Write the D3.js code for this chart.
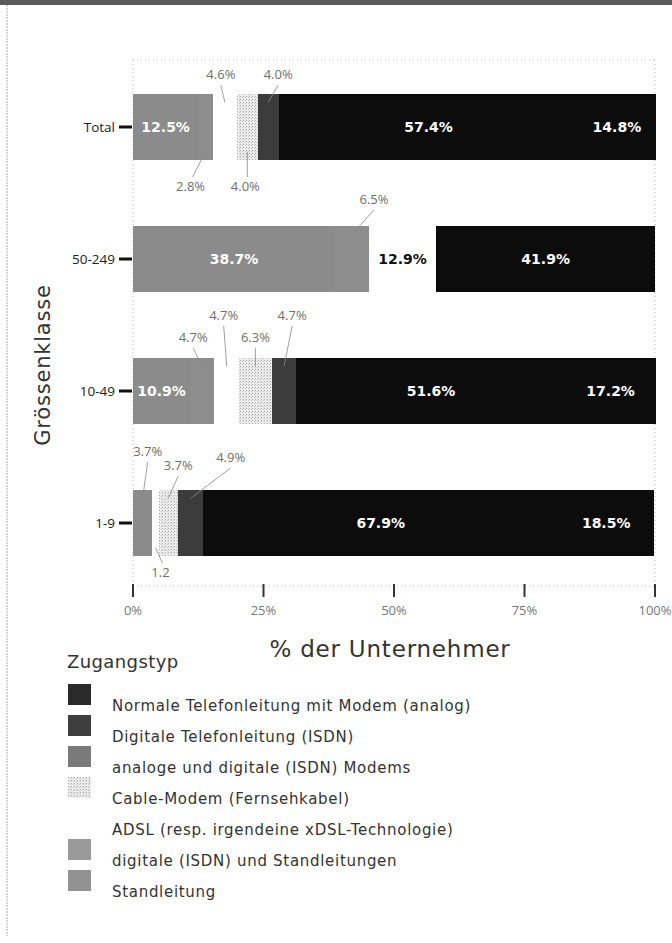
<!DOCTYPE html>
<html>
<head>
<meta charset="UTF-8">
<title>Zugangstyp nach Grössenklasse</title>
<script src="https://d3js.org/d3.v7.min.js"></script>
<style>
  body { margin: 0; background: #fff; }
  text { font-family: "Open Sans", "Noto Sans", sans-serif; }
  .out-label { font-size: 13px; fill: #6e6e6e; }
  .in-label { font-family: "DejaVu Sans", sans-serif; font-size: 14px; font-weight: bold; fill: #fff; }
  .cat-label { font-size: 13.5px; fill: #222; }
  .tick-label { font-size: 13px; fill: #777; }
  .legend-text { font-family: "DejaVu Sans", sans-serif; font-size: 15px; fill: #333; letter-spacing: 0.7px; }
  .title { font-family: "DejaVu Sans", sans-serif; fill: #333; letter-spacing: 0.8px; }
</style>
</head>
<body>
<div id="chart"></div>
<script>
// categories as printed from top to bottom
const categories = ["Total", "50-249", "10-49", "1-9"];

// access types, in stacking order from left to right
const types = [
  "Standleitung",
  "digitale (ISDN) und Standleitungen",
  "ADSL (resp. irgendeine xDSL-Technologie)",
  "Cable-Modem (Fernsehkabel)",
  "analoge und digitale (ISDN) Modems",
  "Digitale Telefonleitung (ISDN)",
  "Normale Telefonleitung mit Modem (analog)"
];

// shares in % per category, same order as categories
const standleitung   = [12.5, 38.7, 10.9, 3.7];
const digStandl      = [2.8, 6.5, 4.7, 0];
const adsl           = [4.6, 12.9, 4.7, 1.2];
const cableModem     = [4.0, 0, 6.3, 3.7];
const anaDigModem    = [4.0, 0, 4.7, 4.9];
const isdn           = [57.4, 41.9, 51.6, 67.9];
const analog         = [14.8, 0, 17.2, 18.5];

// printed value labels (1-9 ADSL is printed without %)
const labelText = {
  "1-9|ADSL (resp. irgendeine xDSL-Technologie)": "1.2"
};

const xTicks = [0, 25, 50, 75, 100];

// legend order as printed
const legendOrder = [
  "Normale Telefonleitung mit Modem (analog)",
  "Digitale Telefonleitung (ISDN)",
  "analoge und digitale (ISDN) Modems",
  "Cable-Modem (Fernsehkabel)",
  "ADSL (resp. irgendeine xDSL-Technologie)",
  "digitale (ISDN) und Standleitungen",
  "Standleitung"
];

// ---- layout ----
const W = 672, H = 943;
const plot = { left: 133, right: 655, top: 60, bottom: 586 };

const fills = {
  "Standleitung": "#8b8b8b",
  "digitale (ISDN) und Standleitungen": "#8d8d8d",
  "ADSL (resp. irgendeine xDSL-Technologie)": "none",
  "Cable-Modem (Fernsehkabel)": "url(#dots)",
  "analoge und digitale (ISDN) Modems": "#3c3c3c",
  "Digitale Telefonleitung (ISDN)": "#0c0c0c",
  "Normale Telefonleitung mit Modem (analog)": "#0c0c0c"
};
const legendFills = {
  "Normale Telefonleitung mit Modem (analog)": "#2a2a2a",
  "Digitale Telefonleitung (ISDN)": "#3e3e3e",
  "analoge und digitale (ISDN) Modems": "#7a7a7a",
  "Cable-Modem (Fernsehkabel)": "url(#dots)",
  "ADSL (resp. irgendeine xDSL-Technologie)": "none",
  "digitale (ISDN) und Standleitungen": "#9a9a9a",
  "Standleitung": "#929292"
};

// small segments get a grey label outside the bar with a leader line
// [category, type, side (-1 above / 1 below), label dx, label y from bar centre]
const outside = [
  ["Total", types[1], 1, -15, 64],
  ["Total", types[2], -1, -4, -48],
  ["Total", types[3], 1, -2, 64],
  ["Total", types[4], -1, 10, -48],
  ["50-249", types[1], -1, 22, -55],
  ["10-49", types[1], -1, -9, -49],
  ["10-49", types[2], -1, -3, -71],
  ["10-49", types[3], -1, 0, -49],
  ["10-49", types[4], -1, 8, -71],
  ["1-9", types[0], -1, 5, -67],
  ["1-9", types[2], 1, 5, 54],
  ["1-9", types[3], -1, 10, -53],
  ["1-9", types[4], -1, 40, -61]
];

const seriesValues = [standleitung, digStandl, adsl, cableModem, anaDigModem, isdn, analog];
const rows = categories.map((c, i) => {
  const r = { cat: c };
  types.forEach((t, j) => r[t] = seriesValues[j][i]);
  return r;
});

const stacked = d3.stack().keys(types)(rows);

const x = d3.scaleLinear().domain([0, 100]).range([plot.left, plot.right]);
const y = d3.scaleBand().domain(categories).range([plot.top, plot.bottom + 4])
  .paddingInner(0.505).paddingOuter(0.26);

const svg = d3.select("#chart").append("svg")
  .attr("width", W).attr("height", H);

const defs = svg.append("defs");
const pat = defs.append("pattern").attr("id", "dots")
  .attr("patternUnits", "userSpaceOnUse").attr("width", 3).attr("height", 3);
pat.append("rect").attr("width", 3).attr("height", 3).attr("fill", "#ececec");
pat.append("rect").attr("x", 0).attr("y", 0).attr("width", 1).attr("height", 1).attr("fill", "#a8a8a8");
pat.append("rect").attr("x", 2).attr("y", 1).attr("width", 1).attr("height", 1).attr("fill", "#c4c4c4");

// page frame (scan border)
svg.append("rect").attr("x", 0).attr("y", 0).attr("width", W).attr("height", 5).attr("fill", "#5a5a5a");
svg.append("line").attr("x1", 7).attr("x2", 7).attr("y1", 5).attr("y2", 936)
  .attr("stroke", "#aaa").attr("stroke-width", 1).attr("stroke-dasharray", "2,1");

// dotted plot frame
const frame = svg.append("g").attr("stroke", "#bbb").attr("stroke-width", 1).attr("stroke-dasharray", "1,3");
frame.append("line").attr("x1", x(0)).attr("x2", x(0)).attr("y1", plot.top).attr("y2", plot.bottom);
frame.append("line").attr("x1", x(100)).attr("x2", x(100)).attr("y1", plot.top).attr("y2", plot.bottom);
frame.append("line").attr("x1", x(0)).attr("x2", x(100)).attr("y1", plot.top).attr("y2", plot.top);
frame.append("line").attr("x1", x(0)).attr("x2", x(100)).attr("y1", plot.bottom).attr("y2", plot.bottom);

// bars
const layer = svg.append("g").attr("shape-rendering", "crispEdges")
  .selectAll("g").data(stacked).enter().append("g")
  .attr("fill", d => fills[d.key]);
layer.selectAll("rect").data(d => d.map(p => ({ key: d.key, p }))).enter().append("rect")
  .attr("x", d => x(d.p[0]))
  .attr("y", d => y(d.p.data.cat))
  .attr("width", d => Math.max(0, x(d.p[1]) - x(d.p[0])))
  .attr("height", y.bandwidth());

// labels inside the bars
const inside = [];
stacked.forEach(s => s.forEach(p => {
  const v = p[1] - p[0];
  if (v >= 10) inside.push({ key: s.key, p, v });
}));
svg.append("g").selectAll("text").data(inside).enter().append("text")
  .attr("class", "in-label")
  .attr("x", d => (x(d.p[0]) + x(d.p[1])) / 2)
  .attr("y", d => y(d.p.data.cat) + y.bandwidth() / 2 + 5)
  .attr("text-anchor", "middle")
  .style("fill", d => d.key === types[2] ? "#111" : "#fff")
  .text(d => d.v.toFixed(1) + "%");

// outside labels with leader lines
const findSeg = (cat, key) => {
  const s = stacked.find(s => s.key === key);
  return s.find(p => p.data.cat === cat);
};
const outG = svg.append("g");
outside.forEach(([cat, key, side, dx, dy]) => {
  const p = findSeg(cat, key);
  const v = p[1] - p[0];
  const cx = (x(p[0]) + x(p[1])) / 2;
  const cy = y(cat) + y.bandwidth() / 2;
  const lx = cx + dx, ly = cy + dy;
  const edge = side < 0 ? y(cat) + 8 : y(cat) + y.bandwidth() - 8;
  outG.append("line")
    .attr("x1", lx + (side < 0 ? 0 : 2)).attr("y1", side < 0 ? ly + 6 : ly - 14)
    .attr("x2", cx).attr("y2", edge)
    .attr("stroke", "#888").attr("stroke-width", 0.8);
  outG.append("text").attr("class", "out-label")
    .attr("x", lx).attr("y", ly).attr("text-anchor", "middle")
    .text(labelText[cat + "|" + key] || v.toFixed(1) + "%");
});

// y axis: category labels and ticks
const yAxis = svg.append("g");
categories.forEach(c => {
  const cy = y(c) + y.bandwidth() / 2;
  yAxis.append("line").attr("x1", x(0) - 14).attr("x2", x(0) - 1)
    .attr("y1", cy).attr("y2", cy).attr("stroke", "#111").attr("stroke-width", 3);
  yAxis.append("text").attr("class", "cat-label")
    .attr("x", x(0) - 18).attr("y", cy + 5).attr("text-anchor", "end").text(c);
});

// x axis
const xAxis = svg.append("g");
xTicks.forEach(t => {
  xAxis.append("line").attr("x1", x(t)).attr("x2", x(t)).attr("y1", 584).attr("y2", 597)
    .attr("stroke", "#333").attr("stroke-width", 2);
  xAxis.append("text").attr("class", "tick-label")
    .attr("x", x(t)).attr("y", 615).attr("text-anchor", "middle").text(t + "%");
});

svg.append("text").attr("class", "title").attr("x", 390).attr("y", 657).attr("text-anchor", "middle")
  .style("font-size", "23px").text("% der Unternehmer");

svg.append("text").attr("class", "title")
  .attr("transform", "translate(50," + 365 + ") rotate(-90)")
  .attr("text-anchor", "middle")
  .style("font-size", "21px").text("Grössenklasse");

// legend
svg.append("text").attr("class", "title").attr("x", 67).attr("y", 668)
  .style("font-size", "18px").style("letter-spacing", "0.4px").text("Zugangstyp");
const leg = svg.append("g").selectAll("g").data(legendOrder).enter().append("g")
  .attr("transform", (d, i) => "translate(68," + (684 + i * 31) + ")");
leg.append("rect").attr("width", 23).attr("height", 21)
  .attr("fill", d => legendFills[d]);
leg.append("text").attr("class", "legend-text").attr("x", 44).attr("y", 27).text(d => d);
</script>
</body>
</html>
